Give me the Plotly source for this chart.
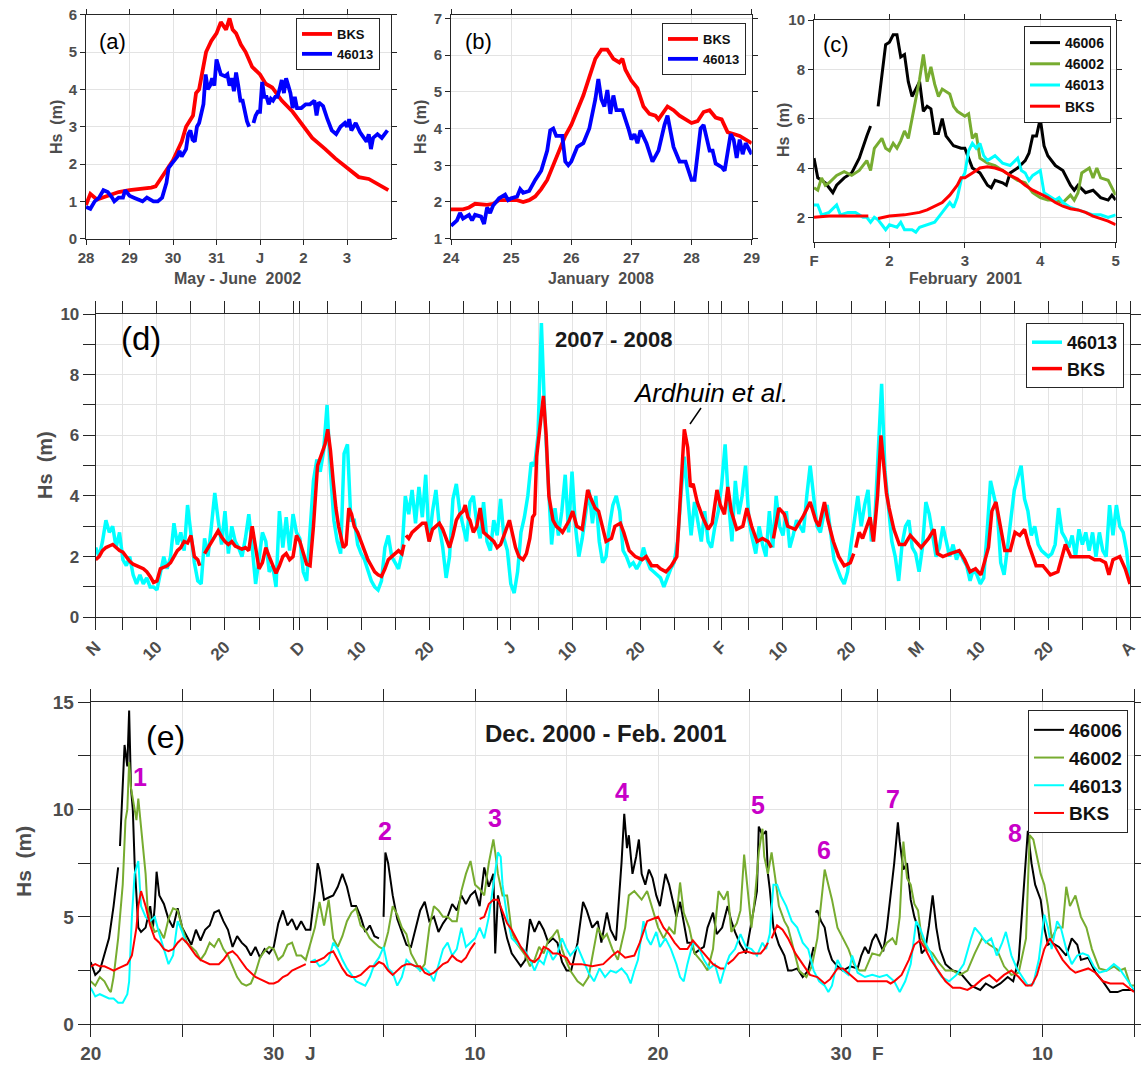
import plotly.graph_objects as go

W, H = 1141, 1069
FONT = "Liberation Sans, Arial, sans-serif"
GRAY = "#4d4d4d"
AXC = "#262626"
GRID = "#e3e3e3"
MAG = "#c800c8"
GREEN = "#77ac30"


def PX(x):
    return x / W


def PY(y):
    return 1 - y / H


# ---------------- Panel (a): days since 28 May 2002 ----------------
A_TICKS = [0, 1, 2, 3, 4, 5, 6]
A_LABELS = ["28", "29", "30", "31", "J", "2", "3"]
A_BKS = [(0, 0.9), (0.1, 1.2), (0.25, 1.05), (0.5, 1.15), (0.75, 1.25), (1.0, 1.3), (1.25, 1.33), (1.5, 1.37),
         (1.6, 1.4), (1.77, 1.7), (1.92, 1.95), (2.0, 2.1), (2.2, 2.6), (2.3, 3.0), (2.46, 3.3), (2.53, 3.9),
         (2.6, 4.0), (2.69, 4.6), (2.76, 5.0), (2.88, 5.3), (3.0, 5.5), (3.1, 5.8), (3.22, 5.6), (3.3, 5.9),
         (3.37, 5.6), (3.45, 5.5), (3.56, 5.2), (3.67, 5.0), (3.82, 4.6), (4.0, 4.4), (4.13, 4.15), (4.28, 4.05),
         (4.5, 3.7), (4.75, 3.4), (5.0, 3.0), (5.2, 2.7), (5.5, 2.4), (5.73, 2.15), (6.0, 1.9), (6.27, 1.65),
         (6.5, 1.6), (6.73, 1.45), (6.95, 1.3)]
A_46013 = [(0, 0.85), (0.1, 0.8), (0.2, 1.0), (0.3, 1.1), (0.4, 1.3), (0.5, 1.25), (0.6, 1.1), (0.65, 1.0),
           (0.75, 1.1), (0.85, 1.1), (0.9, 1.3), (1.0, 1.15), (1.1, 1.1), (1.2, 1.05), (1.3, 1.0), (1.4, 1.1),
           (1.5, 1.05), (1.55, 1.0), (1.65, 1.0), (1.75, 1.1), (1.85, 1.5), (1.9, 1.9), (2.0, 2.05), (2.1, 2.2),
           (2.15, 2.35), (2.2, 2.2), (2.3, 2.4), (2.35, 2.8), (2.4, 2.9), (2.45, 2.65), (2.5, 2.6), (2.55, 3.0),
           (2.6, 3.1), (2.7, 3.6), (2.75, 4.4), (2.8, 4.0), (2.85, 4.1), (2.9, 4.3), (2.95, 4.1), (3.0, 4.8),
           (3.05, 4.6), (3.1, 4.4), (3.2, 4.35), (3.25, 4.4), (3.3, 4.1), (3.35, 4.3), (3.4, 3.95), (3.45, 4.45),
           (3.5, 4.1), (3.55, 3.7), (3.6, 3.7), (3.65, 3.4), (3.7, 3.15), (3.75, 3.0), (3.8, None), (3.85, 3.1),
           (3.9, 3.3), (3.95, 3.4), (4.0, 3.4), (4.05, 4.2), (4.1, 3.8), (4.15, 3.8), (4.2, 3.6), (4.25, 3.75),
           (4.3, 3.7), (4.35, 3.8), (4.4, 3.8), (4.45, 4.0), (4.5, 4.25), (4.55, 3.9), (4.6, 4.3), (4.65, 4.1),
           (4.7, 3.9), (4.75, 3.5), (4.8, 3.8), (4.85, 3.5), (4.95, 3.5), (5.05, 3.6), (5.15, 3.6), (5.25, 3.7),
           (5.3, 3.3), (5.35, 3.65), (5.45, 3.55), (5.55, 3.2), (5.65, 2.9), (5.75, 2.8), (5.85, 3.0), (5.95, 3.1),
           (6.0, 3.0), (6.05, 3.2), (6.1, 2.9), (6.2, 3.1), (6.3, 2.85), (6.45, 2.6), (6.5, 2.8), (6.55, 2.4),
           (6.6, 2.7), (6.7, 2.8), (6.8, 2.7), (6.93, 2.9)]

# ---------------- Panel (b): day of January 2008 ----------------
B_TICKS = [24, 25, 26, 27, 28, 29]
B_BKS = [(24.0, 1.8), (24.2, 1.8), (24.3, 1.85), (24.4, 1.95), (24.6, 1.92), (24.7, 1.95), (24.8, 2.05),
         (25.0, 2.05), (25.1, 2.05), (25.2, 2.0), (25.3, 2.05), (25.4, 2.15), (25.5, 2.35), (25.6, 2.6),
         (25.7, 3.0), (25.8, 3.4), (25.9, 3.8), (26.0, 4.1), (26.1, 4.5), (26.2, 4.9), (26.3, 5.4), (26.4, 5.9),
         (26.5, 6.15), (26.6, 6.15), (26.7, 5.9), (26.8, 5.8), (26.85, 5.9), (26.9, 5.6), (27.0, 5.3),
         (27.1, 5.1), (27.2, 4.6), (27.3, 4.4), (27.4, 4.35), (27.45, 4.25), (27.6, 4.6), (27.7, 4.5),
         (27.8, 4.35), (27.9, 4.25), (28.0, 4.15), (28.1, 4.2), (28.2, 4.45), (28.3, 4.5), (28.4, 4.3),
         (28.5, 4.25), (28.6, 3.9), (28.7, 3.85), (28.8, 3.8), (28.9, 3.7), (29.0, 3.6)]
B_46013 = [(24.0, 1.35), (24.1, 1.5), (24.15, 1.7), (24.2, 1.55), (24.3, 1.65), (24.35, 1.5), (24.4, 1.65),
           (24.5, 1.6), (24.55, 1.4), (24.6, 1.85), (24.65, 1.7), (24.7, 1.9), (24.8, 2.1), (24.9, 2.2),
           (24.95, 2.05), (25.0, 2.1), (25.1, 2.15), (25.15, 2.35), (25.2, 2.25), (25.3, 2.3), (25.4, 2.6),
           (25.5, 2.85), (25.6, 3.4), (25.65, 3.95), (25.7, 4.0), (25.75, 3.8), (25.85, 3.8), (25.9, 3.1),
           (25.95, 3.0), (26.0, 3.1), (26.1, 3.5), (26.2, 3.6), (26.3, 4.0), (26.4, 4.8), (26.45, 5.35),
           (26.5, 4.8), (26.55, 4.6), (26.6, 5.05), (26.65, 4.4), (26.7, 4.9), (26.75, 4.5), (26.85, 4.5),
           (26.95, 4.0), (27.0, 3.7), (27.05, 3.85), (27.1, 3.6), (27.15, 3.95), (27.25, 3.6), (27.35, 3.1),
           (27.45, 3.4), (27.55, 4.1), (27.6, 4.35), (27.7, 3.5), (27.8, 3.1), (27.9, 3.1), (28.0, 2.6),
           (28.05, 2.6), (28.15, 4.0), (28.2, 4.1), (28.3, 3.4), (28.35, 3.4), (28.4, 3.05), (28.5, 2.95),
           (28.55, 2.85), (28.65, 3.85), (28.7, 3.7), (28.75, 3.2), (28.8, 3.7), (28.85, 3.3), (28.9, 3.6),
           (29.0, 3.3)]

# ---------------- Panel (c): day of February 2001 ----------------
C_TICKS = [1, 2, 3, 4, 5]
C_LABELS = ["F", "2", "3", "4", "5"]
C_46006 = [(1.0, 4.4), (1.05, 3.6), (1.1, 3.5), (1.15, 3.4), (1.2, 3.2), (1.25, 3.0), (1.3, 3.3), (1.4, 3.6),
           (1.5, 3.8), (1.6, 4.4), (1.7, 5.3), (1.75, 5.7), (1.8, None), (1.85, 6.5), (1.9, 7.8), (1.95, 9.0),
           (2.0, 9.1), (2.05, 9.4), (2.1, 9.4), (2.15, 8.5), (2.2, 8.6), (2.25, 7.5), (2.3, 6.9), (2.35, 7.2),
           (2.4, 7.5), (2.45, 6.3), (2.5, 6.5), (2.55, 6.4), (2.6, 5.4), (2.65, 5.4), (2.7, 6.0), (2.75, 5.3),
           (2.85, 4.9), (2.95, 4.8), (3.0, 4.8), (3.05, 4.4), (3.1, 4.0), (3.2, 3.8), (3.3, 3.3), (3.35, 3.2),
           (3.4, 3.5), (3.5, 3.4), (3.55, 3.3), (3.6, 3.8), (3.7, 4.0), (3.8, 4.3), (3.85, 4.6), (3.9, 5.3),
           (3.95, 5.3), (4.0, 6.0), (4.05, 4.9), (4.1, 4.5), (4.2, 4.1), (4.3, 3.9), (4.4, 3.3), (4.45, 3.1),
           (4.5, 3.3), (4.6, 3.0), (4.7, 3.1), (4.8, 2.8), (4.9, 2.7), (4.95, 2.9), (5.0, 2.7)]
C_46002 = [(1.0, 3.2), (1.05, 3.1), (1.1, 3.6), (1.15, 3.3), (1.2, 3.4), (1.3, 3.7), (1.4, 3.85), (1.5, 3.7),
           (1.6, 3.9), (1.65, 4.1), (1.7, 4.3), (1.75, 3.9), (1.8, 4.8), (1.9, 5.2), (1.95, 4.8), (2.0, 4.7),
           (2.05, 5.0), (2.1, 4.8), (2.15, 5.1), (2.2, 5.5), (2.25, 5.2), (2.3, 6.0), (2.4, 7.6), (2.45, 8.6),
           (2.5, 7.5), (2.55, 8.1), (2.6, 7.4), (2.65, 6.9), (2.7, 7.2), (2.8, 7.0), (2.85, 6.5), (2.9, 6.3),
           (3.0, 6.1), (3.05, 6.2), (3.1, 5.2), (3.15, 5.4), (3.2, 4.4), (3.3, 4.2), (3.4, 4.1), (3.5, 3.9),
           (3.6, 3.7), (3.7, 3.5), (3.8, 3.4), (3.9, 3.0), (4.0, 2.8), (4.1, 2.7), (4.2, 2.7), (4.3, 2.6),
           (4.4, 2.9), (4.45, 2.7), (4.5, 3.0), (4.55, 3.8), (4.65, 4.0), (4.7, 3.6), (4.75, 4.0), (4.8, 3.6),
           (4.9, 3.5), (5.0, 2.9)]
C_46013 = [(1.0, 2.5), (1.05, 2.5), (1.1, 2.1), (1.2, 2.2), (1.3, 2.5), (1.35, 2.1), (1.45, 2.2), (1.55, 2.2),
           (1.6, 2.1), (1.65, 2.0), (1.7, 2.0), (1.75, 1.8), (1.8, 2.0), (1.85, 1.9), (1.9, 1.7), (1.95, 1.5),
           (2.0, 1.7), (2.1, 1.6), (2.15, 1.8), (2.2, 1.5), (2.3, 1.5), (2.35, 1.4), (2.4, 1.6), (2.5, 1.7),
           (2.6, 1.8), (2.7, 2.2), (2.8, 2.6), (2.85, 2.4), (2.9, 2.8), (2.95, 3.5), (3.0, 3.8), (3.05, 4.7),
           (3.1, 5.0), (3.15, 4.8), (3.2, 5.0), (3.25, 4.5), (3.3, 4.3), (3.4, 4.5), (3.5, 4.2), (3.6, 4.1),
           (3.7, 4.4), (3.75, 3.9), (3.8, 3.8), (3.85, 3.5), (3.9, 3.7), (3.95, 3.8), (4.0, 3.9), (4.05, 3.0),
           (4.1, 2.9), (4.2, 2.7), (4.25, 2.8), (4.3, 2.6), (4.35, 2.5), (4.4, 2.4), (4.5, 2.3), (4.6, 2.2),
           (4.7, 2.1), (4.8, 2.1), (4.9, 2.0), (5.0, 2.1)]
C_BKS = [(1.0, 2.0), (1.2, 2.05), (1.4, 2.05), (1.6, 2.05), (1.72, 2.05), (1.78, None), (1.85, 1.95),
         (2.0, 2.05), (2.2, 2.1), (2.4, 2.2), (2.5, 2.3), (2.6, 2.45), (2.7, 2.6), (2.8, 2.9), (2.9, 3.3),
         (2.95, 3.6), (3.0, 3.6), (3.1, 3.8), (3.2, 4.0), (3.3, 4.05), (3.4, 4.0), (3.5, 3.9), (3.6, 3.7),
         (3.7, 3.55), (3.8, 3.3), (3.9, 3.1), (4.0, 2.95), (4.1, 2.8), (4.2, 2.6), (4.3, 2.45), (4.4, 2.35),
         (4.5, 2.3), (4.6, 2.2), (4.7, 2.05), (4.8, 1.95), (4.9, 1.85), (5.0, 1.7)]

# ---------------- Panel (d): days since 1 Nov 2007 ----------------
D_TICKS = [0, 4, 9, 14, 19, 24, 29, 30, 34, 39, 44, 49, 54, 59, 61, 65, 70, 75, 80, 85, 90, 92, 96, 101,
           106, 111, 116, 121, 125, 130, 135, 140, 145, 150, 152]
D_LABELS = ["N", "", "10", "", "20", "", "", "D", "", "10", "", "20", "", "", "J", "", "10", "", "20", "",
            "", "F", "", "10", "", "20", "", "M", "", "10", "", "20", "", "", "A"]
D_STEP = 0.5  # 46013 sampled every half day
D_46013 = [
    2.3, 2.0, 2.5, 3.2, 2.8, 3.0, 2.3, 2.8, 1.9, 1.7,
    2.0, 1.4, 1.1, 1.4, 1.1, 1.3, 1.0, 1.0, 0.9, 1.4,
    2.0, 1.6, 2.0, 3.1, 2.4, 2.8, 2.2, 3.7, 2.8, 1.8,
    1.2, 1.1, 2.6, 2.0, 3.0, 4.1, 3.2, 2.4, 3.5, 2.1,
    3.0, 2.5, 2.3, 2.0, 2.6, 3.4, 2.3, 1.1, 1.9, 2.8,
    2.5, 1.5, 1.7, 1.0, 3.5, 2.3, 3.3, 2.2, 3.4, 2.8,
    2.6, 1.5, 1.2, 3.0, 4.5, 5.2, 4.8, 5.5, 7.0, 4.8,
    3.2, 2.5, 2.1, 5.4, 5.7, 3.2, 3.2, 2.4, 2.1, 1.9,
    1.5, 1.2, 1.0, 0.9, 1.2, 2.3, 2.7, 2.0, 1.8, 1.6,
    2.1, 4.0, 3.4, 4.2, 3.1, 4.3, 3.3, 4.7, 2.5, 3.5,
    4.2, 3.0, 2.3, 1.3, 2.0, 3.9, 4.4, 3.5, 3.0, 2.5,
    3.8, 4.0, 3.1, 2.6, 3.8, 2.5, 2.2, 3.2, 2.7, 3.9,
    2.6, 2.2, 1.1, 0.8, 1.5, 2.8, 3.3, 4.0, 5.1, 5.0,
    6.0, 9.7, 6.6, 4.2, 2.4, 3.6, 2.7, 3.5, 4.7, 2.8,
    4.8, 3.0, 2.0, 2.6, 3.5, 4.2, 3.1, 4.0, 2.5, 1.8,
    2.0, 3.0, 3.7, 4.0, 3.5, 2.2, 2.0, 1.7, 1.8, 1.6,
    1.8, 2.3, 1.9, 1.6, 1.5, 1.4, 1.3, 1.0, 1.3, 1.6,
    1.8, 2.5, 4.0, 5.3, 4.0, 2.7, 3.8, 3.2, 2.5, 3.5,
    2.5, 2.3, 3.0, 3.5, 4.4, 5.7, 3.8, 2.5, 4.5, 3.4,
    4.0, 5.0, 3.2, 2.6, 2.1, 3.0, 2.4, 2.0, 3.5, 2.3,
    4.0, 3.0, 2.7, 3.5, 2.3, 2.7, 3.2, 3.0, 2.8, 4.0,
    5.0, 4.0, 3.0, 2.8, 3.4, 3.7, 2.7, 1.9, 1.6, 1.3,
    1.1, 1.5, 2.4, 3.2, 4.0, 3.0, 3.7, 4.2, 2.5, 3.2,
    5.5, 7.7, 4.8, 3.5, 2.5, 2.0, 1.2, 2.4, 3.0, 3.2,
    2.3, 2.1, 1.5, 2.3, 3.8, 3.4, 2.7, 2.0, 2.3, 3.0,
    2.5, 2.0, 2.4, 1.9, 2.2, 1.9, 1.7, 1.2, 1.6, 1.4,
    1.1, 1.3, 2.8, 4.5, 4.0, 3.5, 1.8, 1.4, 2.3, 3.2,
    4.2, 4.6, 5.0, 3.9, 3.5, 2.7, 3.0, 2.4, 2.2, 2.1,
    2.0, 2.1, 2.4, 3.6, 2.8, 2.6, 2.3, 2.7, 2.0, 2.9,
    2.4, 2.8, 2.2, 2.8, 2.0, 2.8, 2.2, 2.0, 3.7, 2.7,
    3.7, 3.0, 2.8, 2.2, 1.1]
D_BKS = [(0, 1.9), (0.5, 2.0), (1, 2.2), (1.5, 2.3), (2, 2.35), (2.5, 2.4), (3, 2.3), (3.5, 2.2), (4, 2.15),
         (4.5, 2.0), (5, 1.85), (5.5, 1.75), (6, 1.7), (6.5, 1.65), (7, 1.6), (7.5, 1.5), (8, 1.35), (8.5, 1.15),
         (9, 1.2), (9.5, 1.6), (10, 1.65), (10.5, 1.7), (11, 1.8), (11.5, 2.0), (12, 2.2), (12.5, 2.3), (13, 2.5),
         (13.5, 2.45), (14, 2.7), (14.5, 2.0), (15, 1.9), (15.3, 1.7), (15.5, None), (16, 2.1), (16.5, 2.3),
         (17, 2.5), (17.5, 2.7), (18, 2.85), (18.5, 2.65), (19, 2.5), (19.5, 2.4), (20, 2.5), (20.5, 2.35),
         (21, 2.3), (21.5, 2.25), (22, 2.3), (22.5, 2.2), (23, 3.0), (23.5, 2.2), (24, 1.6), (24.5, 1.8),
         (25, 2.3), (25.5, 2.0), (26, 1.7), (26.5, 1.45), (27, 1.7), (27.5, 2.0), (28, 2.1), (28.5, 1.9),
         (29, 2.0), (29.5, 2.7), (30, 2.5), (30.5, 2.1), (31, 1.75), (31.5, 1.7), (32, 3.0), (32.6, 5.0),
         (33.3, 5.5), (33.7, 5.7), (34.1, 6.2), (34.5, 5.5), (34.9, 4.5), (35.3, 3.6), (35.7, 3.0), (36.4, 2.3),
         (36.8, 2.4), (37.2, 3.6), (37.6, 3.4), (38, 3.0), (38.5, 2.8), (39, 2.5), (39.5, 2.2), (40, 1.9),
         (40.5, 1.7), (41, 1.5), (41.5, 1.4), (42, 1.35), (42.5, 1.6), (43, 1.9), (43.5, 2.0), (44, 2.1),
         (44.5, 2.2), (45, 2.1), (45.3, 2.4), (45.45, None), (45.6, 2.7), (46, 2.6), (46.5, 2.8), (47, 2.9),
         (47.5, 3.0), (48, 3.1), (48.5, 3.1), (49, 2.5), (49.5, 2.9), (50, 3.0), (50.5, 3.1), (51, 2.9),
         (51.5, 2.6), (52, 2.3), (52.5, 2.7), (53, 3.2), (53.5, 3.4), (54, 3.5), (54.3, 3.7), (54.7, 3.3),
         (55, 3.2), (55.5, 2.8), (56, 3.0), (56.5, 3.6), (57, 2.8), (57.5, 2.7), (58, 2.6), (58.5, 2.5),
         (59, 2.3), (59.5, 2.4), (60, 2.7), (60.5, 3.0), (60.8, 3.2), (61.2, 2.8), (61.7, 2.3), (62.2, 2.0),
         (62.8, 1.9), (63.3, 2.1), (63.8, 2.6), (64.2, 3.3), (64.5, 3.4), (64.8, 5.3), (65.3, 6.4), (65.8, 7.3),
         (66.2, 6.0), (66.6, 4.0), (67.2, 3.2), (67.7, 3.0), (68.2, 2.9), (68.6, 2.8), (69.1, 3.0), (69.6, 3.2),
         (70.1, 3.5), (70.7, 3.0), (71.5, 2.9), (72.3, 4.2), (72.8, 3.9), (73.4, 3.6), (73.9, 3.5), (74.5, 3.0),
         (75, 2.5), (75.8, 2.6), (76.3, 3.0), (77.1, 3.1), (77.6, 2.8), (78.4, 2.2), (79.3, 2.0), (80.3, 1.9),
         (80.9, 2.0), (81.7, 1.7), (82.5, 1.7), (83, 1.6), (83.8, 1.5), (84.6, 1.7), (85.4, 2.0), (85.8, 3.5),
         (86.2, 5.0), (86.5, 6.2), (87, 5.6), (87.4, 4.3), (87.8, 4.4), (88.4, 3.8), (89.2, 3.3), (90, 2.9),
         (90.6, 3.1), (91.3, 4.2), (91.8, 3.7), (92.4, 3.4), (92.9, 4.3), (93.4, 3.5), (94.2, 2.9), (95.1, 3.0),
         (95.7, 3.6), (96.4, 3.0), (97.2, 2.5), (98, 2.6), (98.8, 2.5), (99.3, 2.3), (99.45, None), (99.6, 2.6),
         (100.4, 3.6), (101.2, 3.4), (101.7, 3.0), (102.8, 2.9), (103.9, 3.3), (105, 3.8), (105.8, 3.2),
         (106.3, 3.0), (107.1, 3.8), (107.6, 3.2), (108.4, 2.5), (109.2, 2.0), (110, 1.7), (110.9, 1.8),
         (111.4, 2.1), (111.55, None), (111.7, 2.3), (112.2, 2.8), (112.7, 2.6), (113.3, 3.0), (113.8, 3.3),
         (114.3, 2.5), (114.9, 4.0), (115.4, 6.0), (115.8, 5.0), (116.2, 4.1), (116.6, 3.6), (117.3, 2.9),
         (118.1, 2.4), (118.9, 2.4), (119.7, 2.7), (120.5, 2.5), (121.3, 2.3), (122.4, 2.6), (123.2, 2.9),
         (123.7, 2.1), (124.5, 2.0), (125.6, 2.1), (126.9, 2.2), (127.7, 1.9), (128.5, 1.5), (129.3, 1.6),
         (130.1, 1.4), (131.2, 2.3), (131.7, 3.5), (132.3, 3.8), (133.1, 2.9), (133.6, 2.2), (134.4, 2.2),
         (135.1, 2.8), (135.8, 2.7), (136.5, 2.9), (137.1, 2.4), (138.2, 1.7), (139.2, 1.7), (140.3, 1.4),
         (141.4, 1.5), (142.5, 2.4), (143.3, 2.0), (144.1, 2.0), (145.2, 2.0), (146, 2.0), (146.8, 1.9),
         (147.6, 1.9), (148.4, 1.8), (148.9, 1.4), (149.5, 1.9), (150.5, 2.0), (151.3, 1.6), (152, 1.1)]

# ---------------- Panel (e): days since 20 Dec 2000 ----------------
E_TICKS = [0, 5, 10, 12, 16, 21, 26, 31, 36, 41, 43, 47, 52, 57]
E_LABELS = ["20", "", "30", "J", "", "10", "", "20", "", "30", "F", "", "10", ""]
E_46006 = [(0, 2.9), (0.25, 2.3), (0.5, 2.5), (0.75, 3.3), (1, 4.0), (1.25, 5.5), (1.5, 7.3), (1.55, None),
           (1.6, 8.3), (1.75, 11.5), (1.85, 13.0), (2, 12.0), (2.1, 14.6), (2.2, 11.0), (2.3, 10.0), (2.4, 7.5),
           (2.5, 6.0), (2.6, 4.5), (2.75, 4.3), (3, 4.5), (3.25, 5.5), (3.4, 4.5), (3.5, 5.5), (3.6, 7.1),
           (3.75, 6.0), (4, 5.6), (4.25, 4.9), (4.5, 4.5), (4.75, 5.4), (5, 4.5), (5.25, 4.1), (5.5, 3.7),
           (5.75, 4.4), (6, 3.9), (6.25, 4.4), (6.5, 4.6), (6.75, 5.2), (7, 5.3), (7.25, 4.8), (7.5, 4.4),
           (7.75, 3.6), (8, 4.1), (8.25, 3.8), (8.5, 3.6), (8.75, 3.2), (9, 3.6), (9.25, 3.1), (9.5, 3.5),
           (9.75, 3.3), (10, 3.6), (10.25, 4.7), (10.5, 5.3), (10.75, 4.6), (11, 4.9), (11.25, 4.4), (11.5, 4.8),
           (11.75, 4.4), (12, 4.4), (12.25, 6.2), (12.4, 7.5), (12.5, 7.2), (12.75, 5.8), (13, 5.9), (13.25, 6.0),
           (13.5, 6.4), (13.75, 7.0), (14, 6.4), (14.25, 5.5), (14.5, 5.5), (14.75, 5.0), (15, 4.3), (15.25, 4.6),
           (15.5, 4.1), (15.75, 4.0), (15.85, None), (16, 5.0), (16.1, 8.0), (16.25, 7.5), (16.5, 6.0),
           (16.75, 4.9), (17, 4.3), (17.25, 3.7), (17.5, 3.6), (17.75, 4.5), (18, 5.3), (18.25, 5.7), (18.5, 4.8),
           (18.75, 5.0), (19, 4.3), (19.25, 4.7), (19.5, 5.0), (19.75, 5.6), (20, 5.3), (20.25, 6.0), (20.5, 5.6),
           (20.75, 6.0), (21, 6.2), (21.25, 5.5), (21.5, 7.3), (21.75, 6.4), (22, 7.0), (22.1, 3.3), (22.25, 6.0),
           (22.5, 5.0), (22.75, 4.0), (23, 3.3), (23.25, 3.0), (23.5, 2.7), (23.75, 3.0), (24, 4.9), (24.25, 4.3),
           (24.5, 4.8), (24.75, 4.4), (25, 3.8), (25.25, 4.0), (25.5, 3.8), (25.75, 2.9), (26, 2.5), (26.25, 2.5),
           (26.6, 3.8), (26.9, 5.7), (27.1, 5.3), (27.4, 4.5), (27.7, 4.8), (27.9, 3.8), (28.2, 5.2), (28.4, 4.4),
           (28.7, 3.9), (29.0, 7.5), (29.15, 9.8), (29.3, 8.2), (29.4, 8.8), (29.6, 7.0), (29.8, 7.8),
           (29.95, 8.6), (30.1, 7.0), (30.3, 6.5), (30.5, 7.2), (30.7, 6.8), (30.9, 6.0), (31.1, 5.5), (31.4, 7.0),
           (31.6, 6.5), (31.8, 5.7), (32.0, 5.0), (32.2, 5.7), (32.4, 4.8), (32.6, 3.8), (32.8, 3.8), (33.0, 3.3),
           (33.3, 3.5), (33.5, 3.6), (33.7, 4.5), (34.0, 5.2), (34.2, 4.2), (34.5, 4.5), (34.8, 5.5), (35.0, 4.8),
           (35.2, 4.3), (35.5, 3.7), (35.8, 3.3), (36.0, 4.3), (36.3, 5.7), (36.4, 6.2), (36.5, 9.2), (36.7, 8.8),
           (36.9, 9.0), (37.0, 7.0), (37.1, 6.3), (37.3, 4.5), (37.6, 3.7), (37.9, 3.2), (38.1, 2.5), (38.3, 2.5),
           (38.6, 2.6), (38.9, 2.2), (39.2, 2.5), (39.4, 3.3), (39.5, 3.6), (39.55, None), (39.6, 5.2),
           (39.7, 5.3), (39.9, 4.8), (40.1, 4.5), (40.3, 3.5), (40.5, 3.0), (40.8, 2.7), (41.1, 2.5), (41.5, 2.7),
           (41.9, 2.6), (42.1, 3.2), (42.3, 3.6), (42.5, 3.3), (42.7, 3.9), (42.9, 4.2), (43.1, 3.8), (43.3, 3.4),
           (43.5, 4.5), (43.7, 6.0), (43.9, 7.5), (44.1, 9.4), (44.2, 8.5), (44.4, 7.2), (44.6, 7.5), (44.8, 5.8),
           (45.0, 5.0), (45.2, 4.5), (45.4, 3.3), (45.6, 3.5), (45.8, 4.6), (46.0, 6.0), (46.2, 4.5), (46.4, 3.5),
           (46.7, 2.8), (47.1, 2.5), (47.5, 2.4), (47.9, 2.0), (48.1, 1.8), (48.6, 1.6), (48.9, 1.9), (49.3, 1.7),
           (49.7, 1.9), (50.1, 2.2), (50.4, 2.0), (50.7, 3.0), (50.9, 5.5), (51.1, 8.0), (51.2, 9.0), (51.4, 7.5),
           (51.6, 6.5), (51.9, 5.8), (52.1, 4.5), (52.3, 3.7), (52.5, 3.8), (52.9, 3.6), (53.3, 3.2), (53.6, 4.0),
           (53.9, 3.7), (54.1, 3.0), (54.5, 3.1), (54.9, 2.4), (55.3, 2.0), (55.7, 1.5), (56.1, 1.5), (56.4, 1.6),
           (57.0, 1.6)]
E_46002 = [(0, 2.0), (0.25, 1.8), (0.5, 2.2), (0.75, 2.0), (1, 1.6), (1.1, 1.5), (1.25, 2.2), (1.5, 4.0),
           (1.75, 6.5), (1.9, 9.5), (2, 10.0), (2.1, 12.2), (2.2, 11.0), (2.4, 10.0), (2.5, 9.5), (2.6, 10.5),
           (2.75, 9.2), (3, 7.0), (3.1, 5.5), (3.25, 4.8), (3.5, 4.3), (3.75, 4.4), (4, 4.0), (4.25, 4.9),
           (4.5, 5.4), (4.75, 5.3), (5, 4.5), (5.25, 3.8), (5.5, 3.6), (5.75, 3.4), (6, 3.0), (6.25, 3.3),
           (6.5, 3.8), (6.75, 3.6), (7, 4.0), (7.25, 3.5), (7.5, 3.2), (7.75, 2.7), (8, 2.2), (8.25, 1.9),
           (8.5, 1.8), (8.75, 1.9), (9, 2.4), (9.25, 3.1), (9.5, 3.4), (9.75, 3.6), (10, 3.5), (10.25, 3.0),
           (10.5, 3.2), (10.75, 3.7), (11, 3.8), (11.25, 3.2), (11.5, 3.2), (11.75, 3.0), (12, 3.7), (12.25, 4.5),
           (12.5, 5.7), (12.75, 4.6), (13, 5.8), (13.25, 4.0), (13.5, 3.6), (13.75, 4.1), (14, 4.8), (14.25, 5.2),
           (14.5, 5.4), (14.75, 4.6), (15, 4.4), (15.25, 4.0), (15.5, 3.8), (15.75, 3.6), (16, 3.5), (16.25, 4.3),
           (16.5, 5.5), (16.75, 5.1), (17, 4.5), (17.25, 4.2), (17.5, 3.3), (17.75, 2.9), (18, 2.5), (18.25, 2.8),
           (18.5, 4.5), (18.75, 5.5), (19, 5.3), (19.25, 5.0), (19.5, 5.0), (19.75, 4.8), (20, 4.8), (20.25, 6.2),
           (20.5, 7.0), (20.75, 7.6), (21, 6.5), (21.25, 6.3), (21.5, 6.0), (21.75, 7.5), (22, 8.6), (22.1, 8.0),
           (22.25, 7.0), (22.5, 6.0), (22.75, 6.0), (23, 4.3), (23.25, 3.8), (23.5, 3.5), (23.75, 3.2), (24, 2.7),
           (24.25, 3.0), (24.5, 3.6), (24.75, 3.3), (25, 3.9), (25.25, 4.1), (25.5, 4.4), (25.75, 3.5), (26, 2.9),
           (26.2, 2.5), (26.6, 2.0), (26.9, 1.8), (27.2, 2.2), (27.5, 3.6), (27.7, 4.5), (28.0, 4.0), (28.2, 4.2),
           (28.5, 3.5), (28.8, 3.0), (29.2, 4.5), (29.4, 6.0), (29.7, 6.2), (29.9, 6.0), (30.1, 5.8), (30.4, 6.2),
           (30.7, 5.3), (31.0, 4.5), (31.3, 4.0), (31.6, 4.5), (31.9, 4.2), (32.2, 6.6), (32.4, 5.2), (32.7, 4.5),
           (33.0, 3.3), (33.4, 2.9), (33.7, 2.5), (34.0, 3.5), (34.3, 6.2), (34.6, 5.8), (34.8, 6.2), (35.0, 4.3),
           (35.3, 4.7), (35.5, 5.3), (35.7, 7.9), (35.9, 6.3), (36.1, 4.5), (36.3, 6.0), (36.5, 8.0), (36.7, 9.1),
           (36.8, 7.8), (37.0, 7.0), (37.2, 8.0), (37.4, 6.8), (37.6, 5.5), (37.9, 4.8), (38.1, 4.5), (38.4, 3.5),
           (38.7, 2.5), (39.1, 2.2), (39.4, 2.7), (39.7, 4.0), (39.9, 5.5), (40.1, 7.2), (40.3, 6.5), (40.5, 5.8),
           (40.8, 4.5), (41.1, 4.0), (41.4, 3.5), (41.7, 2.8), (42.0, 2.5), (42.3, 2.5), (42.7, 3.3), (43.1, 3.2),
           (43.5, 3.8), (43.8, 4.0), (44.0, 3.7), (44.2, 5.0), (44.4, 8.5), (44.6, 6.8), (44.8, 6.5), (45.0, 5.6),
           (45.2, 5.3), (45.4, 4.0), (45.7, 3.5), (46.0, 3.3), (46.3, 2.9), (46.7, 2.5), (47.1, 2.5), (47.5, 2.3),
           (47.9, 2.5), (48.3, 3.3), (48.7, 4.0), (49.1, 3.7), (49.5, 3.5), (49.9, 2.7), (50.3, 2.3), (50.7, 2.4),
           (51.1, 4.0), (51.3, 8.8), (51.5, 8.6), (51.9, 7.0), (52.1, 6.5), (52.3, 5.5), (52.5, 4.0), (52.8, 4.5),
           (53.1, 4.5), (53.3, 6.4), (53.5, 5.5), (53.8, 6.0), (54.1, 5.0), (54.4, 4.5), (54.7, 3.5), (55.1, 2.6),
           (55.5, 2.5), (55.9, 2.7), (56.2, 2.5), (56.5, 2.6), (56.8, 1.8), (57.0, 1.8)]
E_46013 = [(0, 1.7), (0.25, 1.3), (0.5, 1.4), (0.75, 1.3), (1, 1.2), (1.25, 1.2), (1.5, 1.0), (1.75, 1.0),
           (2, 1.4), (2.1, 2.0), (2.25, 5.0), (2.4, 7.0), (2.6, 7.6), (2.75, 5.5), (3, 5.0), (3.25, 4.8),
           (3.5, 5.0), (3.75, 4.2), (4, 3.5), (4.25, 2.8), (4.5, 3.2), (4.75, 4.8), (5, 4.3), (5.2, 3.8),
           (5.3, None), (12, 2.9), (12.25, 3.0), (12.5, 2.7), (12.75, 2.8), (13, 3.0), (13.25, 3.8), (13.5, 3.5),
           (13.75, 3.0), (14, 2.6), (14.25, 2.3), (14.5, 2.0), (14.75, 1.9), (15, 1.8), (15.25, 2.2), (15.5, 2.8),
           (15.75, 3.1), (16, 3.6), (16.25, 2.6), (16.5, 2.4), (16.75, 1.8), (17, 2.2), (17.25, 3.0), (17.5, 2.8),
           (17.75, 2.7), (18, 2.5), (18.25, 2.6), (18.5, 2.4), (18.75, 2.0), (19, 2.8), (19.25, 3.5), (19.5, 3.8),
           (19.75, 3.2), (20, 3.5), (20.25, 4.5), (20.5, 3.6), (20.75, 3.8), (21, 4.0), (21.25, 4.5), (21.5, 4.0),
           (21.75, 5.0), (22, 6.5), (22.25, 8.0), (22.4, 7.8), (22.5, 6.5), (22.75, 5.0), (23, 4.0), (23.25, 3.8),
           (23.5, 3.6), (23.75, 3.4), (24, 3.0), (24.25, 2.5), (24.5, 3.0), (24.75, 2.8), (25, 3.5), (25.25, 3.0),
           (25.5, 3.3), (25.75, 4.0), (26, 3.5), (26.2, 3.2), (26.6, 3.6), (26.9, 3.0), (27.2, 2.4), (27.5, 2.0),
           (27.8, 2.6), (28.1, 2.2), (28.4, 2.5), (28.7, 2.4), (29.0, 2.6), (29.3, 2.3), (29.5, 1.9), (29.7, 2.5),
           (29.9, 3.0), (30.2, 4.8), (30.4, 4.0), (30.6, 3.7), (30.9, 4.3), (31.1, 3.6), (31.4, 4.0), (31.7, 3.5),
           (32.0, 2.8), (32.2, 2.2), (32.4, 2.0), (32.6, 2.8), (32.9, 3.8), (33.2, 3.6), (33.5, 3.0), (33.8, 2.6),
           (34.1, 2.8), (34.4, 1.9), (34.6, 2.5), (34.9, 3.2), (35.2, 3.5), (35.5, 4.2), (35.8, 3.6), (36.1, 3.5),
           (36.4, 3.2), (36.7, 3.8), (36.9, 3.5), (37.1, 4.2), (37.3, 6.5), (37.5, 6.5), (37.7, 6.0), (38.0, 5.5),
           (38.3, 4.8), (38.6, 4.5), (38.9, 3.8), (39.2, 3.5), (39.5, 2.5), (39.8, 2.0), (40.1, 1.8), (40.3, 1.5),
           (40.5, 1.8), (40.8, 3.0), (41.1, 2.5), (41.4, 2.3), (41.6, 3.2), (41.9, 2.4), (42.3, 2.2), (42.7, 2.3),
           (43.1, 2.2), (43.5, 2.3), (43.9, 2.0), (44.2, 1.5), (44.5, 2.0), (44.8, 2.8), (45.1, 4.8), (45.3, 4.5),
           (45.6, 3.8), (45.9, 3.3), (46.2, 2.6), (46.5, 2.2), (46.9, 2.0), (47.3, 2.3), (47.7, 2.8), (48.1, 4.0),
           (48.3, 4.5), (48.6, 4.2), (48.9, 3.8), (49.2, 4.0), (49.5, 3.2), (49.8, 3.8), (50.0, 4.3), (50.3, 3.2),
           (50.6, 2.6), (50.9, 2.2), (51.2, 1.8), (51.5, 1.9), (51.8, 3.0), (52.1, 5.1), (52.3, 4.5), (52.5, 3.5),
           (52.8, 4.8), (53.0, 4.5), (53.3, 3.5), (53.6, 2.8), (53.9, 3.2), (54.2, 3.3), (54.5, 3.2), (54.8, 2.7),
           (55.1, 2.4), (55.5, 2.5), (55.9, 2.8), (56.2, 2.6), (56.6, 2.1), (57.0, 1.6)]
E_BKS = [(0, 2.7), (0.25, 2.8), (0.5, 2.7), (0.75, 2.7), (1, 2.6), (1.25, 2.5), (1.5, 2.6), (1.75, 2.7),
         (2, 2.8), (2.25, 3.2), (2.5, 4.5), (2.6, 5.5), (2.75, 6.2), (3, 5.5), (3.25, 4.6), (3.5, 4.0),
         (3.75, 3.8), (4, 3.5), (4.25, 3.4), (4.5, 3.5), (4.75, 3.8), (5, 4.0), (5.25, 3.8), (5.5, 3.5),
         (5.75, 3.2), (6, 3.0), (6.25, 2.9), (6.5, 2.8), (6.75, 2.8), (7, 2.8), (7.25, 3.0), (7.5, 3.3),
         (7.75, 3.4), (8, 3.2), (8.25, 2.9), (8.5, 2.6), (8.75, 2.4), (9, 2.2), (9.25, 2.1), (9.5, 2.0),
         (9.75, 1.9), (10, 1.9), (10.25, 2.0), (10.5, 2.2), (10.75, 2.3), (11, 2.5), (11.25, 2.6), (11.5, 2.7),
         (11.75, 2.8), (11.85, None), (12, 2.9), (12.25, 2.9), (12.5, 3.0), (12.75, 3.1), (13, 3.3),
         (13.25, 3.4), (13.5, 3.0), (13.75, 2.6), (14, 2.3), (14.25, 2.2), (14.5, 2.2), (14.75, 2.3), (15, 2.5),
         (15.25, 2.7), (15.5, 2.7), (15.75, 2.9), (16, 2.8), (16.25, 2.5), (16.5, 2.3), (16.75, 2.5), (17, 2.7),
         (17.25, 2.8), (17.5, 2.8), (17.75, 2.7), (18, 2.7), (18.25, 2.4), (18.5, 2.3), (18.75, 2.4), (19, 2.6),
         (19.25, 2.8), (19.5, 2.9), (19.75, 3.2), (20, 3.0), (20.25, 2.9), (20.5, 3.1), (20.75, 3.5), (21, 3.8),
         (21.1, None), (21.25, 4.9), (21.5, 5.0), (21.75, 5.6), (22, 5.8), (22.25, 5.8), (22.5, 5.2),
         (22.75, 4.7), (23, 4.4), (23.25, 4.0), (23.5, 3.6), (23.75, 3.3), (24, 3.0), (24.25, 2.9), (24.5, 3.1),
         (24.75, 3.6), (25, 3.5), (25.25, 3.3), (25.5, 3.3), (25.75, 3.2), (26, 3.1), (26.2, 2.8), (26.8, 2.8),
         (27.4, 2.7), (28.0, 2.8), (28.5, 3.2), (28.8, 3.4), (29.2, 3.1), (29.7, 3.2), (30.0, 3.8), (30.4, 4.8),
         (30.7, 4.9), (31.0, 5.0), (31.3, 4.5), (31.6, 4.2), (31.9, 3.8), (32.2, 3.5), (32.6, 3.5), (32.9, 3.9),
         (33.3, 3.5), (33.6, 3.2), (34.0, 2.8), (34.4, 2.6), (34.6, 2.6), (34.7, None), (34.8, 2.8), (35.1, 3.0),
         (35.4, 3.3), (35.8, 3.4), (36.2, 3.3), (36.6, 3.3), (36.8, 3.5), (37.0, 3.8), (37.1, None), (37.2, 4.0),
         (37.5, 4.6), (37.8, 4.4), (38.1, 4.0), (38.5, 3.3), (38.9, 2.8), (39.3, 2.3), (39.7, 2.2), (40.1, 1.9),
         (40.4, 2.1), (40.8, 2.6), (41.1, 2.6), (41.5, 2.3), (41.9, 2.0), (42.3, 2.0), (42.7, 2.0), (43.1, 2.0),
         (43.5, 2.0), (43.7, 1.9), (43.9, 2.0), (44.3, 2.3), (44.7, 3.0), (45.0, 3.7), (45.3, 3.9), (45.6, 3.5),
         (45.9, 3.0), (46.3, 2.5), (46.7, 2.0), (47.1, 1.7), (47.5, 1.7), (47.9, 1.6), (48.3, 1.8), (48.7, 2.1),
         (49.1, 2.3), (49.5, 2.0), (49.9, 2.3), (50.3, 2.5), (50.7, 2.2), (51.1, 1.8), (51.4, 1.8), (51.7, 2.3),
         (52.1, 3.5), (52.4, 4.0), (52.7, 3.6), (53.1, 3.0), (53.5, 2.6), (53.8, 2.4), (54.1, 2.5), (54.5, 2.6),
         (54.9, 2.4), (55.3, 2.0), (55.7, 1.9), (56.1, 1.9), (56.4, 1.9), (57.0, 1.5)]

# storm labels in panel (e): (label, day, Hs height of the text)
E_STORMS = [("1", 2.7, 11.5), ("2", 16.1, 9.0), ("3", 22.1, 9.6), ("4", 29.0, 10.8),
            ("5", 36.45, 10.2), ("6", 40.07, 8.1), ("7", 43.85, 10.5), ("8", 50.48, 8.9)]


def unzip(pairs):
    return [p[0] for p in pairs], [p[1] for p in pairs]


fig = go.Figure()


def add(pairs, name, color, width, ax, leg):
    x, y = unzip(pairs)
    fig.add_trace(go.Scatter(x=x, y=y, mode="lines", name=name, line=dict(color=color, width=width),
                             xaxis="x" + ax, yaxis="y" + ax, legend=leg, hoverinfo="skip"))


# (a)
add(A_BKS, "BKS", "#ff0000", 3.8, "", "legend")
add(A_46013, "46013", "#0000ff", 3.8, "", "legend")
# (b)
add(B_BKS, "BKS", "#ff0000", 3.8, "2", "legend2")
add(B_46013, "46013", "#0000ff", 3.8, "2", "legend2")
# (c)
add(C_46006, "46006", "#000000", 3, "3", "legend3")
add(C_46002, "46002", GREEN, 3, "3", "legend3")
add(C_46013, "46013", "#00ffff", 3, "3", "legend3")
add(C_BKS, "BKS", "#ff0000", 3, "3", "legend3")
# (d)
d_t = [i * D_STEP for i in range(len(D_46013))]
fig.add_trace(go.Scatter(x=d_t, y=D_46013, mode="lines", name="46013", line=dict(color="#00ffff", width=3.5),
                         xaxis="x4", yaxis="y4", legend="legend4", hoverinfo="skip"))
add(D_BKS, "BKS", "#ff0000", 3.5, "4", "legend4")
# (e)
add(E_46006, "46006", "#000000", 2, "5", "legend5")
add(E_46002, "46002", GREEN, 2, "5", "legend5")
add(E_46013, "46013", "#00ffff", 2, "5", "legend5")
add(E_BKS, "BKS", "#ff0000", 2, "5", "legend5")


def axis(domain, rng, tickvals, ticktext, size, ticklen, anchor, angle=0):
    return dict(domain=domain, range=rng, tickmode="array", tickvals=tickvals, ticktext=ticktext,
                showline=True, linecolor=AXC, linewidth=1, mirror="allticks", ticks="outside",
                ticklen=ticklen, tickwidth=1, tickcolor=AXC, showgrid=True, gridcolor=GRID, gridwidth=1,
                zeroline=False, anchor=anchor, tickangle=angle, automargin=False,
                tickfont=dict(family=FONT, size=size, color=GRAY, weight="bold"))


lay = dict(width=W, height=H, margin=dict(l=0, r=0, t=0, b=0, pad=0, autoexpand=False),
           paper_bgcolor="white", plot_bgcolor="white", showlegend=True)
# (a)
lay["xaxis"] = axis([PX(86), PX(390.5)], [0, 7], A_TICKS, A_LABELS, 15, 5, "y")
lay["yaxis"] = axis([PY(238.7), PY(14.7)], [0, 6], list(range(0, 7)), [str(v) for v in range(0, 7)], 15, 5, "x")
# (b)
lay["xaxis2"] = axis([PX(451), PX(751.7)], [24, 29], B_TICKS, [str(v) for v in B_TICKS], 15, 5, "y2")
lay["yaxis2"] = axis([PY(238.7), PY(14.7)], [1, 7.1], list(range(1, 8)), [str(v) for v in range(1, 8)], 15, 5, "x2")
# (c)
lay["xaxis3"] = axis([PX(814), PX(1115.7)], [1, 5], C_TICKS, C_LABELS, 15, 5, "y3")
lay["yaxis3"] = axis([PY(242), PY(20)], [1, 10], [2, 4, 6, 8, 10], ["2", "4", "6", "8", "10"], 15, 5, "x3")
# (d)
lay["xaxis4"] = axis([PX(95.7), PX(1130)], [0, 152], D_TICKS, D_LABELS, 17, 12, "y4", angle=-45)
lay["yaxis4"] = axis([PY(617.3), PY(314)], [0, 10], list(range(0, 11)),
                     [str(v) if v % 2 == 0 else "" for v in range(0, 11)], 17, 12, "x4")
# (e)
lay["xaxis5"] = axis([PX(90.7), PX(1134)], [0, 57], E_TICKS, E_LABELS, 19, 12, "y5")
lay["yaxis5"] = axis([PY(1024.3), PY(702)], [0, 15], [0, 2.5, 5, 7.5, 10, 12.5, 15],
                     ["0", "", "5", "", "10", "", "15"], 19, 12, "x5")


def legend(right, top, size):
    return dict(x=PX(right), y=PY(top), xanchor="right", yanchor="top", bgcolor="white", bordercolor=AXC,
                borderwidth=1, font=dict(family=FONT, size=size, color="#111111", weight="bold"),
                itemwidth=30, tracegroupgap=0)


lay["legend"] = legend(380, 18, 13)
lay["legend2"] = legend(746, 23, 13)
lay["legend3"] = legend(1111, 26, 14)
lay["legend4"] = legend(1124, 323, 18)
lay["legend5"] = legend(1128, 710, 19)

ann = []


def text(x, y, s, size, color=GRAY, angle=0, bold=True, italic=False, family=FONT, xanchor="center"):
    ann.append(dict(x=PX(x), y=PY(y), xref="paper", yref="paper", text=s, showarrow=False, textangle=angle,
                    xanchor=xanchor, yanchor="middle",
                    font=dict(family=family, size=size, color=color, weight="bold" if bold else "normal",
                              style="italic" if italic else "normal")))


# axis titles
text(57, 127, "Hs  (m)", 16, angle=-90)
text(421, 127, "Hs  (m)", 16, angle=-90)
text(783, 130, "Hs  (m)", 16, angle=-90)
text(45, 465, "Hs  (m)", 20, angle=-90)
text(23, 862, "Hs  (m)", 21, angle=-90)
text(237, 278, "May - June  2002", 16)
text(601, 278, "January  2008", 16)
text(965, 278, "February  2001", 16)
# panel letters
text(112, 42, "(a)", 22, color="#000000", bold=False)
text(478, 42, "(b)", 22, color="#000000", bold=False)
text(836, 45, "(c)", 22, color="#000000", bold=False)
text(141, 338, "(d)", 33, color="#000000", bold=False)
text(165, 737, "(e)", 32, color="#000000", bold=False)
# panel titles
text(613, 339, "2007 - 2008", 22, color="#1a1a1a")
text(605, 733, "Dec. 2000 - Feb. 2001", 24, color="#1a1a1a")
text(710, 393, "Ardhuin et al.", 26, color="#000000", bold=False, italic=True)
lay["annotations"] = ann

# storm numbers placed in data coordinates of panel (e)
for lab, day, hs in E_STORMS:
    lay["annotations"].append(dict(x=day, y=hs, xref="x5", yref="y5", text=lab, showarrow=False,
                                   font=dict(family=FONT, size=25, color=MAG, weight="bold")))

# pointer from the "Ardhuin et al." label towards the BKS peak
lay["shapes"] = [dict(type="line", xref="paper", yref="paper", x0=PX(690), y0=PY(424), x1=PX(701), y1=PY(408),
                      line=dict(color="#000000", width=1.5))]

fig.update_layout(**lay)
fig.write_html("out.html", config={"displayModeBar": False},
               post_script="document.body.style.margin='0px';document.body.style.overflow='hidden';")
